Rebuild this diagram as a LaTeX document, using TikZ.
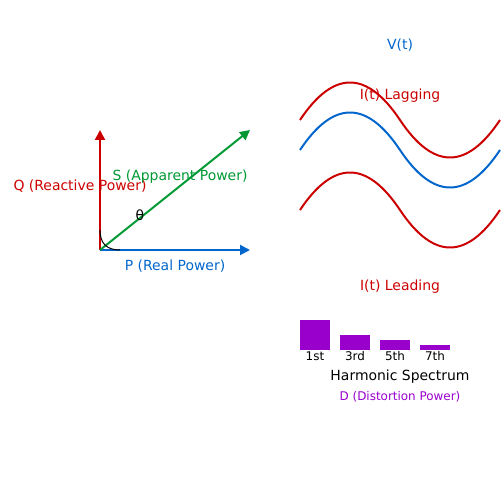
\documentclass[tikz,border=0pt]{standalone}
\usepackage{fontspec}
\setmainfont{DejaVu Sans}
\usepackage{xcolor}
\usetikzlibrary{arrows.meta,positioning}
\definecolor{pblue}{HTML}{0066CC}
\definecolor{qred}{HTML}{CC0000}
\definecolor{sgreen}{HTML}{009933}
\definecolor{dpurple}{HTML}{9900CC}
\tikzset{lbl/.style={inner sep=0pt,anchor=base,font=\fontsize{7.94}{9}\selectfont},
  small/.style={inner sep=0pt,anchor=base,font=\fontsize{6.8}{8}\selectfont},
  vec/.style={line width=1.13pt,-{Triangle[length=0.2cm,width=0.2cm]}},
  wave/.style={line width=1.13pt}}

\begin{document}
\begin{tikzpicture}[x=0.02cm,y=-0.02cm]
    \useasboundingbox (0,0) rectangle (500,500);
    % power triangle
    \coordinate (o) at (100,250);
    \coordinate (pend) at (250,250);
    \coordinate (qend) at (100,130);
    \coordinate (send) at (250,130);
    \coordinate (qa) at (100,230);
    \coordinate (pa) at (120,250);

    \draw [vec,pblue] (o) -- (pend);
    \draw [vec,qred] (o) -- (qend);
    \draw [vec,sgreen] (o) -- (send);
    \draw [line width=0.57pt] (qa) .. controls (100,243.33) and (106.67,250) .. (pa);

    \node[lbl,pblue] (plbl) at (175,270) {P (Real Power)};
    \node[lbl,qred] (qlbl) at (80,190) {Q (Reactive Power)};
    \node[lbl,sgreen] (slbl) at (180,180) {S (Apparent Power)};
    \node[lbl] (theta) at (140,220) {θ};

    % waveforms
    \draw [wave,qred] (300,120) .. controls (333.33,70) and (366.67,70) .. (400,120)
        .. controls (433.33,170) and (466.67,170) .. (500,120);
    \draw [wave,pblue] (300,150) .. controls (333.33,100) and (366.67,100) .. (400,150)
        .. controls (433.33,200) and (466.67,200) .. (500,150);
    \draw [wave,qred] (300,210) .. controls (333.33,160) and (366.67,160) .. (400,210)
        .. controls (433.33,260) and (466.67,260) .. (500,210);

    \node[lbl,pblue] (vlbl) at (400,50) {V(t)};
    \node[lbl,qred] (laglbl) at (400,100) {I(t) Lagging};
    \node[lbl,qred] (leadlbl) at (400,290) {I(t) Leading};

    % harmonic spectrum
    \fill [dpurple] (300,320) rectangle (330,350);
    \fill [dpurple] (340,335) rectangle (370,350);
    \fill [dpurple] (380,340) rectangle (410,350);
    \fill [dpurple] (420,345) rectangle (450,350);
    \node[small] (h1) at (315,360) {1st};
    \node[small] (h3) at (355,360) {3rd};
    \node[small] (h5) at (395,360) {5th};
    \node[small] (h7) at (435,360) {7th};
    \node[lbl] (spec) at (400,380) {Harmonic Spectrum};
    \node[small,dpurple] (dlbl) at (400,400) {D (Distortion Power)};
\end{tikzpicture}
\end{document}
